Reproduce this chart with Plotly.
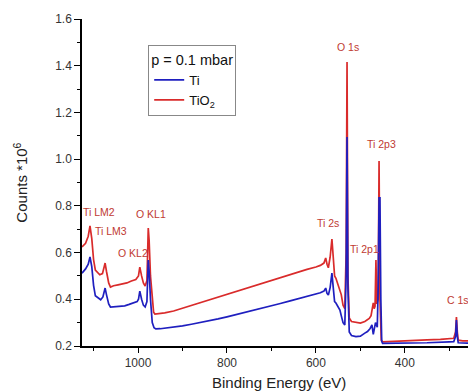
import plotly.graph_objects as go

# TiO2 spectrum (binding energy eV, counts *10^6)
tio2_energy = [1126, 1118, 1112, 1108, 1104, 1100, 1096, 1092, 1086, 1080, 1076, 1074, 1071, 1066, 1062,
               1055, 1045, 1035, 1025, 1015, 1005, 999, 996, 992, 988, 984, 980, 977, 975, 972, 968, 965,
               962, 955, 940, 920, 900, 880, 860, 840, 820, 800, 780, 760, 740, 720, 700, 680, 660, 640,
               620, 600, 590, 582, 578, 575, 572, 568, 564, 561, 558, 555, 550, 546, 543, 539, 535, 532,
               530, 528, 525, 520, 510, 500, 490, 480, 476, 473, 471, 469, 467, 465, 463, 460, 458, 456,
               453, 450, 430, 410, 390, 370, 350, 320, 300, 290, 286, 284, 282, 280, 270, 250, 240]
tio2_counts = [0.624, 0.64, 0.67, 0.714, 0.66, 0.57, 0.525, 0.515, 0.505, 0.51, 0.54, 0.555, 0.52, 0.47, 0.452,
               0.458, 0.462, 0.465, 0.47, 0.478, 0.485, 0.50, 0.538, 0.50, 0.47, 0.457, 0.48, 0.705, 0.65, 0.50, 0.40, 0.345,
               0.337, 0.338, 0.342, 0.35, 0.362, 0.372, 0.385, 0.398, 0.41, 0.422, 0.433, 0.445, 0.458, 0.47, 0.482, 0.495, 0.507, 0.518,
               0.528, 0.538, 0.545, 0.555, 0.577, 0.55, 0.535, 0.58, 0.658, 0.58, 0.50, 0.49, 0.46, 0.44, 0.42, 0.375, 0.36, 0.60,
               1.416, 0.50, 0.32, 0.305, 0.30, 0.298, 0.305, 0.318, 0.33, 0.36, 0.385, 0.36, 0.37, 0.568, 0.38, 0.40, 0.992, 0.40,
               0.225, 0.218, 0.219, 0.221, 0.222, 0.224, 0.226, 0.228, 0.232, 0.233, 0.26, 0.324, 0.26, 0.225, 0.222, 0.221, 0.221]

# Ti spectrum
ti_energy = [1126, 1118, 1112, 1108, 1104, 1100, 1096, 1090, 1084, 1079, 1076, 1074, 1071, 1066, 1062,
             1050, 1040, 1030, 1020, 1010, 1002, 999, 996, 992, 988, 984, 980, 977, 975, 972, 968, 964,
             960, 950, 930, 900, 880, 860, 840, 820, 800, 780, 760, 740, 720, 700, 680, 660, 640, 620,
             600, 590, 582, 578, 575, 572, 568, 564, 561, 558, 555, 550, 546, 543, 539, 535, 532, 530,
             528, 525, 520, 510, 500, 490, 484, 478, 474, 471, 468, 466, 462, 460, 458, 456, 454, 452,
             450, 400, 350, 300, 290, 286, 284, 282, 280, 260, 240]
ti_counts = [0.512, 0.53, 0.55, 0.581, 0.54, 0.46, 0.415, 0.405, 0.398, 0.41, 0.44, 0.448, 0.42, 0.38, 0.367,
             0.37, 0.372, 0.372, 0.378, 0.383, 0.39, 0.40, 0.435, 0.40, 0.375, 0.367, 0.39, 0.568, 0.52, 0.40, 0.30, 0.278,
             0.273, 0.274, 0.278, 0.286, 0.293, 0.30, 0.307, 0.316, 0.325, 0.334, 0.343, 0.352, 0.362, 0.372, 0.382, 0.392, 0.402, 0.412,
             0.422, 0.428, 0.435, 0.448, 0.425, 0.418, 0.45, 0.512, 0.45, 0.39, 0.384, 0.37, 0.354, 0.33, 0.30, 0.29, 0.50, 1.095,
             0.45, 0.26, 0.245, 0.24, 0.242, 0.255, 0.262, 0.275, 0.29, 0.25, 0.29, 0.30, 0.28, 0.45, 0.834, 0.834, 0.40, 0.22,
             0.211, 0.212, 0.214, 0.218, 0.219, 0.24, 0.311, 0.24, 0.214, 0.212, 0.212]

series_names = ["Ti", "TiO<sub>2</sub>"]
legend_title = "p = 0.1 mbar"
x_title = "Binding Energy (eV)"
y_title = "Counts *10<sup>6</sup>"

peak_labels = ["Ti LM2", "Ti LM3", "O KL1", "O KL2", "Ti 2s", "O 1s", "Ti 2p3", "Ti 2p1", "C 1s"]
label_x = [1087, 1061, 971, 1012, 572, 528, 453, 490, 281]
label_y = [0.774, 0.692, 0.765, 0.598, 0.727, 1.48, 1.065, 0.615, 0.397]

BLUE = "#1f1fbf"
RED = "#d92b2b"
LABEL_RED = "#c03a32"
FONT = "Liberation Sans, Arial, sans-serif"

fig = go.Figure()
fig.add_trace(go.Scatter(x=tio2_energy, y=tio2_counts, mode="lines", name=series_names[1],
                         line=dict(color=RED, width=1.7)))
fig.add_trace(go.Scatter(x=ti_energy, y=ti_counts, mode="lines", name=series_names[0],
                         line=dict(color=BLUE, width=1.7)))

for t, x, y in zip(peak_labels, label_x, label_y):
    fig.add_annotation(x=x, y=y, text=t, showarrow=False, xanchor="center", yanchor="middle",
                       font=dict(family=FONT, size=10.5, color=LABEL_RED))

# axis titles
fig.add_annotation(xref="paper", yref="paper", x=0.5, y=-0.113, text=x_title, showarrow=False,
                   xanchor="center", yanchor="middle", font=dict(family=FONT, size=15, color="#222"))
fig.add_annotation(xref="paper", yref="paper", x=-0.157, y=0.5, text=y_title, showarrow=False,
                   textangle=-90, xanchor="center", yanchor="middle",
                   font=dict(family=FONT, size=15, color="#222"))

# page body adds an 8px margin, so the figure is 8px smaller and margins shifted
fig.update_layout(
    width=468, height=384,
    margin=dict(l=74, r=0, t=11, b=46, autoexpand=False),
    paper_bgcolor="white", plot_bgcolor="white",
    font=dict(family=FONT, color="#222"),
    showlegend=True,
    legend=dict(x=0.168, y=0.92, xanchor="left", yanchor="top",
                traceorder="reversed", bgcolor="white", bordercolor="#888", borderwidth=1,
                font=dict(family=FONT, size=13, color="#111"),
                title=dict(text=legend_title, font=dict(family=FONT, size=14.5, color="#111")),
                tracegroupgap=0, itemwidth=30),
    xaxis=dict(range=[1126, 240], showgrid=False, zeroline=False, automargin=False,
               showline=True, linecolor="black", linewidth=1.5,
               ticks="outside", ticklen=5, tickcolor="black", tickwidth=1,
               tickvals=[1000, 800, 600, 400], ticktext=["1000", "800", "600", "400"],
               tickfont=dict(family=FONT, size=12, color="#333"),
               minor=dict(tickvals=[1100, 900, 700, 500, 300], ticks="outside", ticklen=3,
                          tickcolor="black")),
    yaxis=dict(range=[0.2, 1.6], showgrid=False, zeroline=False, automargin=False,
               showline=True, linecolor="black", linewidth=1.5,
               ticks="outside", ticklen=6, tickcolor="black", tickwidth=1,
               tickvals=[0.2, 0.4, 0.6, 0.8, 1.0, 1.2, 1.4, 1.6],
               ticktext=["0.2", "0.4", "0.6", "0.8", "1.0", "1.2", "1.4", "1.6"],
               tickfont=dict(family=FONT, size=12, color="#333"),
               minor=dict(tickvals=[0.3, 0.5, 0.7, 0.9, 1.1, 1.3, 1.5], ticks="outside", ticklen=3,
                          tickcolor="black")),
)

fig.write_html("out.html")
